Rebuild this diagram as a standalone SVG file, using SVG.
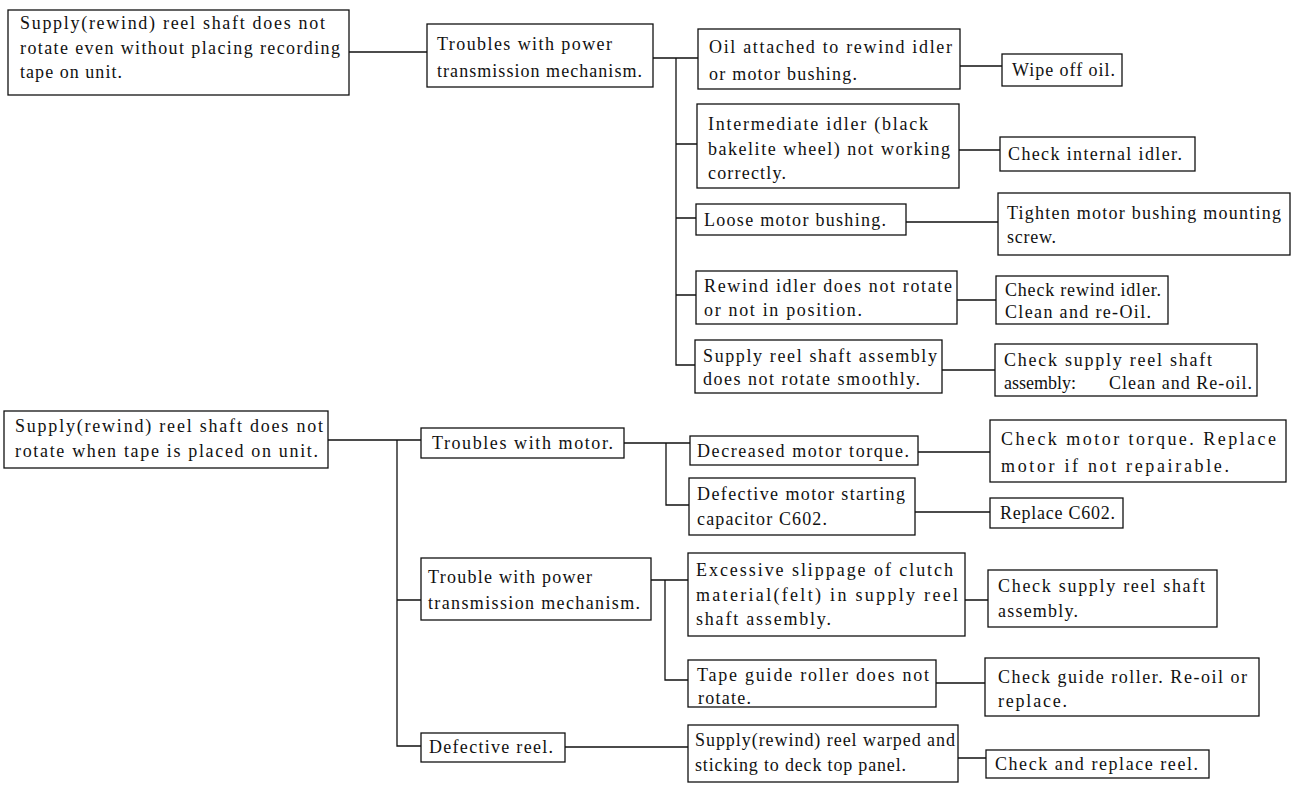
<svg xmlns="http://www.w3.org/2000/svg" width="1291" height="785" viewBox="0 0 1291 785">
<style>
.b{fill:#fff;stroke:#111;stroke-width:1.3}
.t{font-family:"Liberation Serif","Times New Roman",serif;font-size:18px;fill:#111}
.c{stroke:#111;stroke-width:1.3;fill:none}
</style>
<rect width="1291" height="785" fill="#fff"/>
<g id="connectors">
<path class="c" d="M349 52H427"/>
<path class="c" d="M653 58H698M676 58V365H695M676 144H697M676 218H696M676 295H696"/>
<path class="c" d="M960 66H1002M959 150H1000M906 222H998M957 300H996M942 370H995"/>
<path class="c" d="M328 440H421M397 440V746H421M397 600H421"/>
<path class="c" d="M624 443H690M666 443V505H689"/>
<path class="c" d="M918 452H990M915 512H990"/>
<path class="c" d="M651 580H688M665 580V680H688"/>
<path class="c" d="M965 600H988M936 683H985"/>
<path class="c" d="M565 747H688M958 758H986"/>
</g>
<g id="a1"><rect class="b" x="8" y="10" width="341" height="85"/>
<text class="t" x="20" y="29" textLength="305" lengthAdjust="spacing">Supply(rewind)  reel shaft does not</text>
<text class="t" x="20" y="54" textLength="320" lengthAdjust="spacing">rotate even without placing recording</text>
<text class="t" x="20" y="78" textLength="102" lengthAdjust="spacing">tape on unit.</text></g>
<g id="b1"><rect class="b" x="427" y="24" width="226" height="63"/>
<text class="t" x="437" y="50" textLength="175" lengthAdjust="spacing">Troubles with power</text>
<text class="t" x="437" y="77" textLength="205" lengthAdjust="spacing">transmission mechanism.</text></g>
<g id="c1"><rect class="b" x="698" y="29" width="262" height="60"/>
<text class="t" x="709" y="53" textLength="243" lengthAdjust="spacing">Oil attached to rewind idler</text>
<text class="t" x="709" y="80" textLength="148" lengthAdjust="spacing">or motor bushing.</text></g>
<g id="d1"><rect class="b" x="1002" y="54" width="120" height="32"/>
<text class="t" x="1012" y="76" textLength="103" lengthAdjust="spacing">Wipe off oil.</text></g>
<g id="c2"><rect class="b" x="697" y="104" width="262" height="84"/>
<text class="t" x="708" y="130" textLength="220" lengthAdjust="spacing">Intermediate idler (black</text>
<text class="t" x="708" y="155" textLength="242" lengthAdjust="spacing">bakelite wheel)  not working</text>
<text class="t" x="708" y="179" textLength="78" lengthAdjust="spacing">correctly.</text></g>
<g id="d2"><rect class="b" x="1000" y="137" width="195" height="34"/>
<text class="t" x="1008" y="160" textLength="174" lengthAdjust="spacing">Check internal idler.</text></g>
<g id="c3"><rect class="b" x="696" y="204" width="210" height="31"/>
<text class="t" x="704" y="226" textLength="182" lengthAdjust="spacing">Loose motor bushing.</text></g>
<g id="d3"><rect class="b" x="998" y="193" width="292" height="62"/>
<text class="t" x="1007" y="219" textLength="274" lengthAdjust="spacing">Tighten motor bushing mounting</text>
<text class="t" x="1007" y="243" textLength="49" lengthAdjust="spacing">screw.</text></g>
<g id="c4"><rect class="b" x="696" y="271" width="261" height="53"/>
<text class="t" x="704" y="292" textLength="248" lengthAdjust="spacing">Rewind idler does not rotate</text>
<text class="t" x="704" y="316" textLength="158" lengthAdjust="spacing">or not  in position.</text></g>
<g id="d4"><rect class="b" x="996" y="276" width="172" height="48"/>
<text class="t" x="1005" y="296" textLength="156" lengthAdjust="spacing">Check rewind idler.</text>
<text class="t" x="1005" y="318" textLength="146" lengthAdjust="spacing">Clean and re-Oil.</text></g>
<g id="c5"><rect class="b" x="695" y="340" width="247" height="53"/>
<text class="t" x="703" y="362" textLength="234" lengthAdjust="spacing">Supply reel shaft assembly</text>
<text class="t" x="703" y="385" textLength="217" lengthAdjust="spacing">does not rotate smoothly.</text></g>
<g id="d5"><rect class="b" x="995" y="344" width="262" height="52"/>
<text class="t" x="1004" y="366" textLength="208" lengthAdjust="spacing">Check supply reel shaft</text>
<text class="t" x="1004" y="389">assembly:</text>
<text class="t" x="1109" y="389" textLength="143" lengthAdjust="spacing">Clean and Re-oil.</text></g>
<g id="a2"><rect class="b" x="4" y="411" width="324" height="57"/>
<text class="t" x="15" y="432" textLength="308" lengthAdjust="spacing">Supply(rewind)  reel shaft does not</text>
<text class="t" x="15" y="457" textLength="303" lengthAdjust="spacing">rotate when tape is placed on unit.</text></g>
<g id="b2a"><rect class="b" x="421" y="428" width="203" height="30"/>
<text class="t" x="432" y="449" textLength="181" lengthAdjust="spacing">Troubles with motor.</text></g>
<g id="c6"><rect class="b" x="690" y="436" width="228" height="29"/>
<text class="t" x="697" y="457" textLength="212" lengthAdjust="spacing">Decreased motor torque.</text></g>
<g id="d6"><rect class="b" x="990" y="420" width="296" height="62"/>
<text class="t" x="1001" y="445" textLength="275" lengthAdjust="spacing">Check motor torque.  Replace</text>
<text class="t" x="1001" y="472" textLength="228" lengthAdjust="spacing">motor  if not repairable.</text></g>
<g id="c7"><rect class="b" x="689" y="478" width="226" height="57"/>
<text class="t" x="697" y="500" textLength="208" lengthAdjust="spacing">Defective motor starting</text>
<text class="t" x="697" y="525" textLength="130" lengthAdjust="spacing">capacitor C602.</text></g>
<g id="d7"><rect class="b" x="990" y="498" width="133" height="30"/>
<text class="t" x="1000" y="519" textLength="115" lengthAdjust="spacing">Replace C602.</text></g>
<g id="b2b"><rect class="b" x="421" y="558" width="230" height="62"/>
<text class="t" x="428" y="583" textLength="164" lengthAdjust="spacing">Trouble with power</text>
<text class="t" x="428" y="609" textLength="212" lengthAdjust="spacing">transmission mechanism.</text></g>
<g id="c8"><rect class="b" x="688" y="553" width="277" height="83"/>
<text class="t" x="696" y="576" textLength="257" lengthAdjust="spacing">Excessive slippage of clutch</text>
<text class="t" x="696" y="601" textLength="262" lengthAdjust="spacing">material(felt)  in supply reel</text>
<text class="t" x="696" y="625" textLength="135" lengthAdjust="spacing">shaft assembly.</text></g>
<g id="d8"><rect class="b" x="988" y="570" width="229" height="57"/>
<text class="t" x="998" y="592" textLength="207" lengthAdjust="spacing">Check supply reel shaft</text>
<text class="t" x="998" y="617" textLength="80" lengthAdjust="spacing">assembly.</text></g>
<g id="c9"><rect class="b" x="688" y="660" width="248" height="47"/>
<text class="t" x="697" y="681" textLength="232" lengthAdjust="spacing">Tape guide roller does not</text>
<text class="t" x="698" y="704" textLength="53" lengthAdjust="spacing">rotate.</text></g>
<g id="d9"><rect class="b" x="985" y="658" width="274" height="58"/>
<text class="t" x="998" y="683" textLength="249" lengthAdjust="spacing">Check guide roller. Re-oil or</text>
<text class="t" x="998" y="707" textLength="69" lengthAdjust="spacing">replace.</text></g>
<g id="b2c"><rect class="b" x="421" y="733" width="144" height="29"/>
<text class="t" x="429" y="753" textLength="124" lengthAdjust="spacing">Defective reel.</text></g>
<g id="c10"><rect class="b" x="688" y="725" width="270" height="57"/>
<text class="t" x="695" y="746" textLength="260" lengthAdjust="spacing">Supply(rewind) reel warped and</text>
<text class="t" x="695" y="771" textLength="211" lengthAdjust="spacing">sticking to deck top panel.</text></g>
<g id="d10"><rect class="b" x="986" y="750" width="223" height="28"/>
<text class="t" x="995" y="770" textLength="203" lengthAdjust="spacing">Check and replace reel.</text></g>
</svg>
